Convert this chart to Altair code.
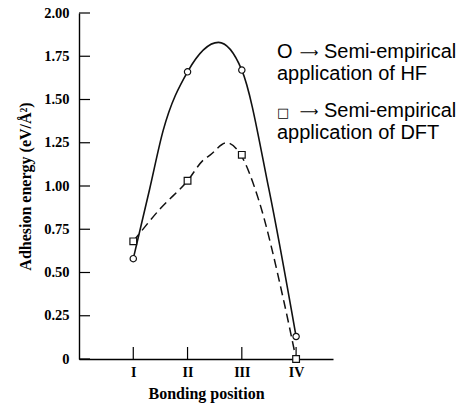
import altair as alt
import pandas as pd

# ---- data ----
positions = [1, 2, 3, 4]
pos_labels = ["I", "II", "III", "IV"]
hf_values = [0.58, 1.66, 1.67, 0.13]      # circles (HF)
dft_values = [0.68, 1.03, 1.18, 0.00]     # squares (DFT)

# points
hf_curve_x = [1.0, 1.3, 1.55, 2.0, 2.57, 3.0, 3.5, 4.0]
hf_curve_y = [0.58, 0.98, 1.32, 1.66, 1.83, 1.67, 0.98, 0.13]
dft_curve_x = [1.0, 1.5, 2.0, 2.29, 2.42, 2.72, 2.98, 3.30, 3.77, 4.0]
dft_curve_y = [0.68, 0.87, 1.03, 1.15, 1.18, 1.25, 1.18, 0.93, 0.34, 0.00]

y_ticks = [0, 0.25, 0.5, 0.75, 1.0, 1.25, 1.5, 1.75, 2.0]

legend_symbols = ["O", "\u25a1"]
legend_arrow = "\u27f6"
legend_first = ["Semi-empirical", "Semi-empirical"]
legend_second = ["application of HF", "application of DFT"]

# ---- tables ----
hf_curve = pd.DataFrame({"pos": hf_curve_x, "energy": hf_curve_y})
dft_curve = pd.DataFrame({"pos": dft_curve_x, "energy": dft_curve_y})
hf_pts = pd.DataFrame({"pos": positions, "energy": hf_values})
dft_pts = pd.DataFrame({"pos": positions, "energy": dft_values})
yt = pd.DataFrame({"energy": y_ticks})
xt = pd.DataFrame({"pos": positions})
one = pd.DataFrame({"k": [0]})

W, H = 254, 346
serif = "Liberation Serif"
sans = "Liberation Sans"

x_scale = alt.Scale(domain=[0, 4.68], nice=False, zero=False)
y_scale = alt.Scale(domain=[0, 2], nice=False)

x_axis = alt.Axis(
    values=positions,
    labelExpr="['', 'I', 'II', 'III', 'IV'][datum.value]",
    ticks=False, tickSize=0, labelPadding=6,
    title="Bonding position", titlePadding=6,
    labelFont=serif, labelFontWeight="bold", labelFontSize=14,
    titleFont=serif, titleFontWeight="bold", titleFontSize=16,
    labelColor="black", titleColor="black",
    domainColor="black", domainWidth=1.4, grid=False,
)
y_axis = alt.Axis(
    values=y_ticks,
    labelExpr="datum.value == 0 ? '0' : format(datum.value, '.2f')",
    ticks=False, tickSize=0, labelPadding=10,
    title="Adhesion energy (eV/\u00c5\u00b2)", titlePadding=10,
    labelFont=serif, labelFontWeight="bold", labelFontSize=14.5,
    titleFont=serif, titleFontWeight="bold", titleFontSize=16,
    labelColor="black", titleColor="black",
    domainColor="black", domainWidth=1.4, grid=False,
)

X = alt.X("pos:Q", scale=x_scale, axis=x_axis)
Y = alt.Y("energy:Q", scale=y_scale, axis=y_axis)

hf_line = alt.Chart(hf_curve).mark_line(
    color="#111", strokeWidth=1.6, interpolate="monotone"
).encode(x=X, y=Y)

dft_line = alt.Chart(dft_curve).mark_line(
    color="#111", strokeWidth=1.5, interpolate="monotone", strokeDash=[9, 5]
).encode(x=X, y=Y)

hf_mark = alt.Chart(hf_pts).mark_point(
    shape="circle", size=40, filled=True, fill="white", stroke="#111",
    strokeWidth=1.2, opacity=1
).encode(x=X, y=Y)

dft_mark = alt.Chart(dft_pts).mark_point(
    shape="square", size=45, filled=True, fill="white", stroke="#111",
    strokeWidth=1.2, opacity=1
).encode(x=X, y=Y)

y_tick_marks = alt.Chart(yt).mark_rule(color="black", strokeWidth=1.2).encode(
    y=Y, x=alt.value(0), x2=alt.value(11)
)
x_tick_marks = alt.Chart(xt).mark_rule(color="black", strokeWidth=1.2).encode(
    x=X, y=alt.value(H), y2=alt.value(H - 12)
)


def txt(text, x, y, size=20, font=sans, align="left"):
    return alt.Chart(one).mark_text(
        align=align, baseline="alphabetic", font=font,
        fontSize=size, color="black"
    ).encode(x=alt.value(x), y=alt.value(y), text=alt.value(text))


legend_layers = []
for i, base in enumerate([45, 104]):
    sym_size = 20 if i == 0 else 13
    legend_layers.append(txt(legend_symbols[i], 198, base, size=sym_size,
                             font=sans if i == 0 else "DejaVu Sans"))
    legend_layers.append(txt(legend_arrow, 230, base - 1, size=13,
                             font="DejaVu Sans", align="center"))
    legend_layers.append(txt(legend_first[i], 245, base))
    legend_layers.append(txt(legend_second[i], 198, base + 22))

chart = alt.layer(
    y_tick_marks, x_tick_marks, hf_line, dft_line, hf_mark, dft_mark,
    *legend_layers
).properties(
    width=W, height=H,
    autosize=alt.AutoSizeParams(type="none"),
    padding={"left": 79, "top": 13, "right": 137, "bottom": 44},
    background="white",
).configure_view(stroke=None)

chart.save("out.html", embed_options={"renderer": "svg", "actions": False})
